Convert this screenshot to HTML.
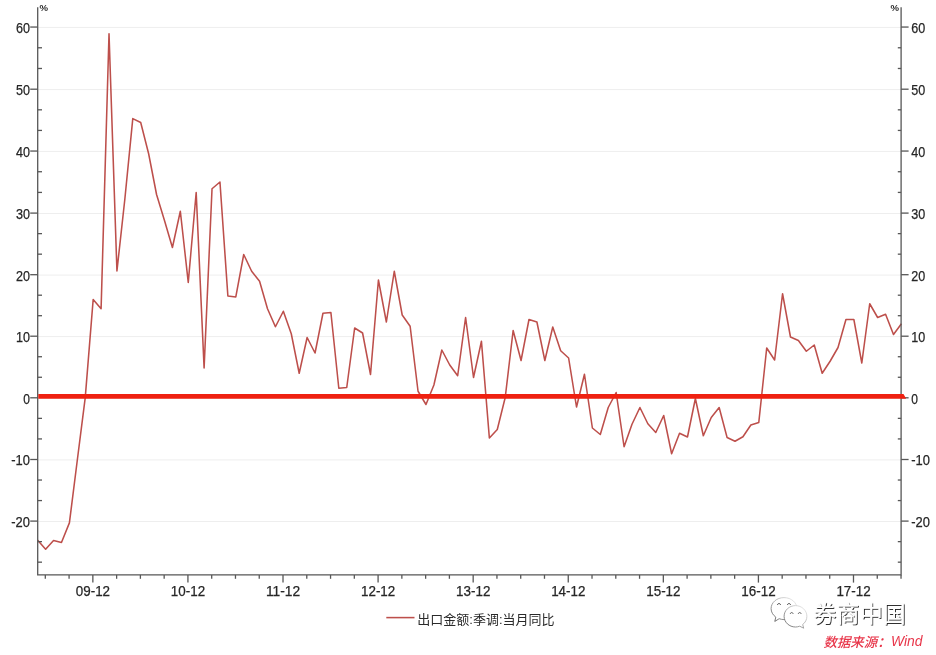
<!DOCTYPE html>
<html lang="zh"><head><meta charset="utf-8"><title>出口金额:季调:当月同比</title>
<style>html,body{margin:0;padding:0;background:#fff;}body{width:936px;height:655px;overflow:hidden;position:relative;}svg{display:block;position:absolute;left:0;top:0;}text{font-family:"Liberation Sans","Noto Sans CJK SC",sans-serif;}.num{font-size:14.4px;fill:#262626;stroke:#262626;stroke-width:0.25px;}.pct{font-size:9.6px;font-weight:bold;fill:#2b2b2b;}.xl{font-size:14px;}.leg{font-size:13px;fill:#2a2a2a;}.wm{font-size:22.6px;letter-spacing:0.6px;fill:#fff;stroke:none;}.src{font-size:13.4px;font-style:italic;font-weight:500;fill:#e8364a;}</style></head><body>
<svg width="936" height="655" viewBox="0 0 936 655">
<rect width="936" height="655" fill="#fff"/>
<g stroke="#eeeeee" stroke-width="1">
<line x1="37.7" y1="27.45" x2="901.1" y2="27.45"/>
<line x1="37.7" y1="89.60" x2="901.1" y2="89.60"/>
<line x1="37.7" y1="151.45" x2="901.1" y2="151.45"/>
<line x1="37.7" y1="213.50" x2="901.1" y2="213.50"/>
<line x1="37.7" y1="275.10" x2="901.1" y2="275.10"/>
<line x1="37.7" y1="336.60" x2="901.1" y2="336.60"/>
<line x1="37.7" y1="398.20" x2="901.1" y2="398.20"/>
<line x1="37.7" y1="459.90" x2="901.1" y2="459.90"/>
<line x1="37.7" y1="521.50" x2="901.1" y2="521.50"/>
</g>
<polyline fill="none" stroke="#bd4f4b" stroke-width="1.55" stroke-linejoin="round" points="37.70,540.30 45.62,549.30 53.55,540.50 61.47,542.50 69.40,522.90 77.32,460.00 85.24,397.60 93.17,299.50 101.09,308.75 109.02,33.75 116.94,271.00 124.86,199.00 132.79,118.60 140.71,122.50 148.64,153.75 156.56,194.50 164.48,220.50 172.41,247.50 180.33,211.25 188.26,282.50 196.18,192.50 204.10,368.00 212.03,188.75 219.95,182.00 227.88,296.00 235.80,296.90 243.72,254.50 251.65,271.25 259.57,281.25 267.50,308.75 275.42,326.75 283.34,311.25 291.27,333.75 299.19,373.25 307.12,337.50 315.04,353.00 322.96,313.25 330.89,312.50 338.81,388.25 346.74,387.50 354.66,328.00 362.58,333.00 370.51,374.50 378.43,280.00 386.36,322.00 394.28,271.25 402.20,315.00 410.13,326.25 418.05,391.25 425.98,404.50 433.90,385.00 441.82,350.00 449.75,365.00 457.67,375.75 465.60,317.50 473.52,377.50 481.44,341.25 489.37,438.00 497.29,429.50 505.22,397.50 513.14,330.50 521.06,360.50 528.99,319.50 536.91,322.00 544.84,360.50 552.76,327.00 560.68,350.75 568.61,358.00 576.53,407.00 584.46,374.25 592.38,428.00 600.30,434.50 608.23,407.50 616.15,392.50 624.08,446.75 632.00,424.25 639.92,407.50 647.85,423.75 655.77,432.50 663.70,415.50 671.62,453.75 679.54,433.25 687.47,437.00 695.39,398.50 703.32,435.75 711.24,417.50 719.16,407.50 727.09,437.50 735.01,441.25 742.94,436.75 750.86,425.00 758.78,422.50 766.71,348.00 774.63,360.00 782.56,293.75 790.48,337.00 798.40,340.50 806.33,351.25 814.25,345.00 822.18,373.25 830.10,361.25 838.02,347.50 845.95,319.50 853.87,319.50 861.80,363.00 869.72,303.75 877.64,317.50 885.57,314.25 893.49,334.50 901.42,323.75"/>
<g stroke="#575757" stroke-width="1.3" fill="none">
<path d="M37.7 7.2V574.9H901.1V7.2"/>
</g>
<g stroke="#575757" stroke-width="1.3">
<line x1="30.2" y1="27.05" x2="37.7" y2="27.05"/>
<line x1="901.1" y1="27.05" x2="908.6" y2="27.05"/>
<line x1="37.7" y1="47.77" x2="42" y2="47.77"/>
<line x1="897.8" y1="47.77" x2="901.1" y2="47.77"/>
<line x1="37.7" y1="68.48" x2="42" y2="68.48"/>
<line x1="897.8" y1="68.48" x2="901.1" y2="68.48"/>
<line x1="30.2" y1="89.20" x2="37.7" y2="89.20"/>
<line x1="901.1" y1="89.20" x2="908.6" y2="89.20"/>
<line x1="37.7" y1="109.82" x2="42" y2="109.82"/>
<line x1="897.8" y1="109.82" x2="901.1" y2="109.82"/>
<line x1="37.7" y1="130.43" x2="42" y2="130.43"/>
<line x1="897.8" y1="130.43" x2="901.1" y2="130.43"/>
<line x1="30.2" y1="151.05" x2="37.7" y2="151.05"/>
<line x1="901.1" y1="151.05" x2="908.6" y2="151.05"/>
<line x1="37.7" y1="171.73" x2="42" y2="171.73"/>
<line x1="897.8" y1="171.73" x2="901.1" y2="171.73"/>
<line x1="37.7" y1="192.42" x2="42" y2="192.42"/>
<line x1="897.8" y1="192.42" x2="901.1" y2="192.42"/>
<line x1="30.2" y1="213.10" x2="37.7" y2="213.10"/>
<line x1="901.1" y1="213.10" x2="908.6" y2="213.10"/>
<line x1="37.7" y1="233.63" x2="42" y2="233.63"/>
<line x1="897.8" y1="233.63" x2="901.1" y2="233.63"/>
<line x1="37.7" y1="254.17" x2="42" y2="254.17"/>
<line x1="897.8" y1="254.17" x2="901.1" y2="254.17"/>
<line x1="30.2" y1="274.70" x2="37.7" y2="274.70"/>
<line x1="901.1" y1="274.70" x2="908.6" y2="274.70"/>
<line x1="37.7" y1="295.20" x2="42" y2="295.20"/>
<line x1="897.8" y1="295.20" x2="901.1" y2="295.20"/>
<line x1="37.7" y1="315.70" x2="42" y2="315.70"/>
<line x1="897.8" y1="315.70" x2="901.1" y2="315.70"/>
<line x1="30.2" y1="336.20" x2="37.7" y2="336.20"/>
<line x1="901.1" y1="336.20" x2="908.6" y2="336.20"/>
<line x1="37.7" y1="356.73" x2="42" y2="356.73"/>
<line x1="897.8" y1="356.73" x2="901.1" y2="356.73"/>
<line x1="37.7" y1="377.27" x2="42" y2="377.27"/>
<line x1="897.8" y1="377.27" x2="901.1" y2="377.27"/>
<line x1="30.2" y1="397.80" x2="37.7" y2="397.80"/>
<line x1="901.1" y1="397.80" x2="908.6" y2="397.80"/>
<line x1="37.7" y1="418.37" x2="42" y2="418.37"/>
<line x1="897.8" y1="418.37" x2="901.1" y2="418.37"/>
<line x1="37.7" y1="438.93" x2="42" y2="438.93"/>
<line x1="897.8" y1="438.93" x2="901.1" y2="438.93"/>
<line x1="30.2" y1="459.50" x2="37.7" y2="459.50"/>
<line x1="901.1" y1="459.50" x2="908.6" y2="459.50"/>
<line x1="37.7" y1="480.03" x2="42" y2="480.03"/>
<line x1="897.8" y1="480.03" x2="901.1" y2="480.03"/>
<line x1="37.7" y1="500.57" x2="42" y2="500.57"/>
<line x1="897.8" y1="500.57" x2="901.1" y2="500.57"/>
<line x1="30.2" y1="521.10" x2="37.7" y2="521.10"/>
<line x1="901.1" y1="521.10" x2="908.6" y2="521.10"/>
<line x1="37.7" y1="541.63" x2="42" y2="541.63"/>
<line x1="897.8" y1="541.63" x2="901.1" y2="541.63"/>
<line x1="37.7" y1="562.17" x2="42" y2="562.17"/>
<line x1="897.8" y1="562.17" x2="901.1" y2="562.17"/>
<line x1="45.31" y1="574.9" x2="45.31" y2="578.8"/>
<line x1="69.08" y1="574.9" x2="69.08" y2="578.8"/>
<line x1="92.85" y1="574.9" x2="92.85" y2="582.6"/>
<line x1="116.62" y1="574.9" x2="116.62" y2="578.8"/>
<line x1="140.39" y1="574.9" x2="140.39" y2="578.8"/>
<line x1="164.16" y1="574.9" x2="164.16" y2="578.8"/>
<line x1="187.93" y1="574.9" x2="187.93" y2="582.6"/>
<line x1="211.70" y1="574.9" x2="211.70" y2="578.8"/>
<line x1="235.47" y1="574.9" x2="235.47" y2="578.8"/>
<line x1="259.24" y1="574.9" x2="259.24" y2="578.8"/>
<line x1="283.01" y1="574.9" x2="283.01" y2="582.6"/>
<line x1="306.78" y1="574.9" x2="306.78" y2="578.8"/>
<line x1="330.55" y1="574.9" x2="330.55" y2="578.8"/>
<line x1="354.32" y1="574.9" x2="354.32" y2="578.8"/>
<line x1="378.09" y1="574.9" x2="378.09" y2="582.6"/>
<line x1="401.86" y1="574.9" x2="401.86" y2="578.8"/>
<line x1="425.63" y1="574.9" x2="425.63" y2="578.8"/>
<line x1="449.40" y1="574.9" x2="449.40" y2="578.8"/>
<line x1="473.17" y1="574.9" x2="473.17" y2="582.6"/>
<line x1="496.94" y1="574.9" x2="496.94" y2="578.8"/>
<line x1="520.71" y1="574.9" x2="520.71" y2="578.8"/>
<line x1="544.48" y1="574.9" x2="544.48" y2="578.8"/>
<line x1="568.25" y1="574.9" x2="568.25" y2="582.6"/>
<line x1="592.02" y1="574.9" x2="592.02" y2="578.8"/>
<line x1="615.79" y1="574.9" x2="615.79" y2="578.8"/>
<line x1="639.56" y1="574.9" x2="639.56" y2="578.8"/>
<line x1="663.33" y1="574.9" x2="663.33" y2="582.6"/>
<line x1="687.10" y1="574.9" x2="687.10" y2="578.8"/>
<line x1="710.87" y1="574.9" x2="710.87" y2="578.8"/>
<line x1="734.64" y1="574.9" x2="734.64" y2="578.8"/>
<line x1="758.41" y1="574.9" x2="758.41" y2="582.6"/>
<line x1="782.18" y1="574.9" x2="782.18" y2="578.8"/>
<line x1="805.95" y1="574.9" x2="805.95" y2="578.8"/>
<line x1="829.72" y1="574.9" x2="829.72" y2="578.8"/>
<line x1="853.49" y1="574.9" x2="853.49" y2="582.6"/>
<line x1="877.26" y1="574.9" x2="877.26" y2="578.8"/>
<line x1="901.03" y1="574.9" x2="901.03" y2="578.8"/>
</g>
<text class="num" x="16.00" y="32.90" textLength="14.0" lengthAdjust="spacingAndGlyphs">60</text>
<text class="num" x="911.2" y="32.90" textLength="14.0" lengthAdjust="spacingAndGlyphs">60</text>
<text class="num" x="16.00" y="95.05" textLength="14.0" lengthAdjust="spacingAndGlyphs">50</text>
<text class="num" x="911.2" y="95.05" textLength="14.0" lengthAdjust="spacingAndGlyphs">50</text>
<text class="num" x="16.00" y="156.90" textLength="14.0" lengthAdjust="spacingAndGlyphs">40</text>
<text class="num" x="911.2" y="156.90" textLength="14.0" lengthAdjust="spacingAndGlyphs">40</text>
<text class="num" x="16.00" y="218.95" textLength="14.0" lengthAdjust="spacingAndGlyphs">30</text>
<text class="num" x="911.2" y="218.95" textLength="14.0" lengthAdjust="spacingAndGlyphs">30</text>
<text class="num" x="16.00" y="280.55" textLength="14.0" lengthAdjust="spacingAndGlyphs">20</text>
<text class="num" x="911.2" y="280.55" textLength="14.0" lengthAdjust="spacingAndGlyphs">20</text>
<text class="num" x="16.00" y="342.05" textLength="14.0" lengthAdjust="spacingAndGlyphs">10</text>
<text class="num" x="911.2" y="342.05" textLength="14.0" lengthAdjust="spacingAndGlyphs">10</text>
<text class="num" x="23.30" y="403.65" textLength="6.7" lengthAdjust="spacingAndGlyphs">0</text>
<text class="num" x="911.2" y="403.65" textLength="6.7" lengthAdjust="spacingAndGlyphs">0</text>
<text class="num" x="11.30" y="465.35" textLength="18.7" lengthAdjust="spacingAndGlyphs">-10</text>
<text class="num" x="911.2" y="465.35" textLength="18.7" lengthAdjust="spacingAndGlyphs">-10</text>
<text class="num" x="11.30" y="526.95" textLength="18.7" lengthAdjust="spacingAndGlyphs">-20</text>
<text class="num" x="911.2" y="526.95" textLength="18.7" lengthAdjust="spacingAndGlyphs">-20</text>
<text class="num xl" x="75.75" y="595.6" textLength="34.3" lengthAdjust="spacingAndGlyphs">09-12</text>
<text class="num xl" x="170.83" y="595.6" textLength="34.3" lengthAdjust="spacingAndGlyphs">10-12</text>
<text class="num xl" x="265.91" y="595.6" textLength="34.3" lengthAdjust="spacingAndGlyphs">11-12</text>
<text class="num xl" x="360.99" y="595.6" textLength="34.3" lengthAdjust="spacingAndGlyphs">12-12</text>
<text class="num xl" x="456.07" y="595.6" textLength="34.3" lengthAdjust="spacingAndGlyphs">13-12</text>
<text class="num xl" x="551.15" y="595.6" textLength="34.3" lengthAdjust="spacingAndGlyphs">14-12</text>
<text class="num xl" x="646.23" y="595.6" textLength="34.3" lengthAdjust="spacingAndGlyphs">15-12</text>
<text class="num xl" x="741.31" y="595.6" textLength="34.3" lengthAdjust="spacingAndGlyphs">16-12</text>
<text class="num xl" x="836.39" y="595.6" textLength="34.3" lengthAdjust="spacingAndGlyphs">17-12</text>
<text class="pct" x="39.6" y="11">%</text>
<text class="pct" x="899" y="11" text-anchor="end">%</text>
<path d="M38.3 393.9H903.5L906.2 398.7H38.3Z" fill="#ef2111"/>
<line x1="386.3" y1="617.6" x2="414.5" y2="617.6" stroke="#bd4f4b" stroke-width="1.55"/>
<text class="leg" x="417.3" y="623.8">出口金额:季调:当月同比</text>
<defs><filter id="sh" x="-10%" y="-10%" width="130%" height="130%"><feDropShadow dx="0.9" dy="0.9" stdDeviation="0.3" flood-color="#000" flood-opacity="0.9"/></filter></defs>
<g filter="url(#sh)">
<text class="wm" x="813.5" y="621.9">券商中国</text>
</g>
<defs><linearGradient id="ig" x1="1" y1="0" x2="0" y2="1"><stop offset="0" stop-color="#f2f2f2"/><stop offset="0.45" stop-color="#acacac"/><stop offset="1" stop-color="#4a4a4a"/></linearGradient></defs>
<g fill="#fff" stroke="url(#ig)" stroke-width="0.85" stroke-linejoin="round">
<path d="M784 597.600c-7.200 0-12.900 4.900-12.900 11 0 3.400 1.800 6.400 4.700 8.500l-1 4.300 4.400-2.700c1.500.5 3.100.9 4.800.9 7.200 0 12.900-4.900 12.900-11s-5.700-11-12.900-11z"/>
<path d="M795.500 605.600c-6.300 0-11.400 4.800-11.400 10.700s5.100 10.700 11.400 10.700c1.500 0 2.900-.3 4.200-.8l4 2-1-3.700c2.600-1.900 4.200-4.900 4.200-8.200 0-5.900-5.100-10.700-11.400-10.700z"/>
</g>
<g fill="none" stroke="#555" stroke-width="0.9" stroke-linecap="round">
<path d="M777.400 604.600a1.700 1.700 0 0 1 3.200 0M787.400 604.600a1.700 1.700 0 0 1 3.200 0"/>
<path d="M790.300 613.500a1.500 1.500 0 0 1 2.800 0M798.300 613.500a1.500 1.500 0 0 1 2.800 0"/>
</g>
<text class="src" x="823.6" y="647.1">数据来源：</text><text class="src" x="891" y="646.3" style="font-size:13.9px">Wind</text>
</svg></body></html>
